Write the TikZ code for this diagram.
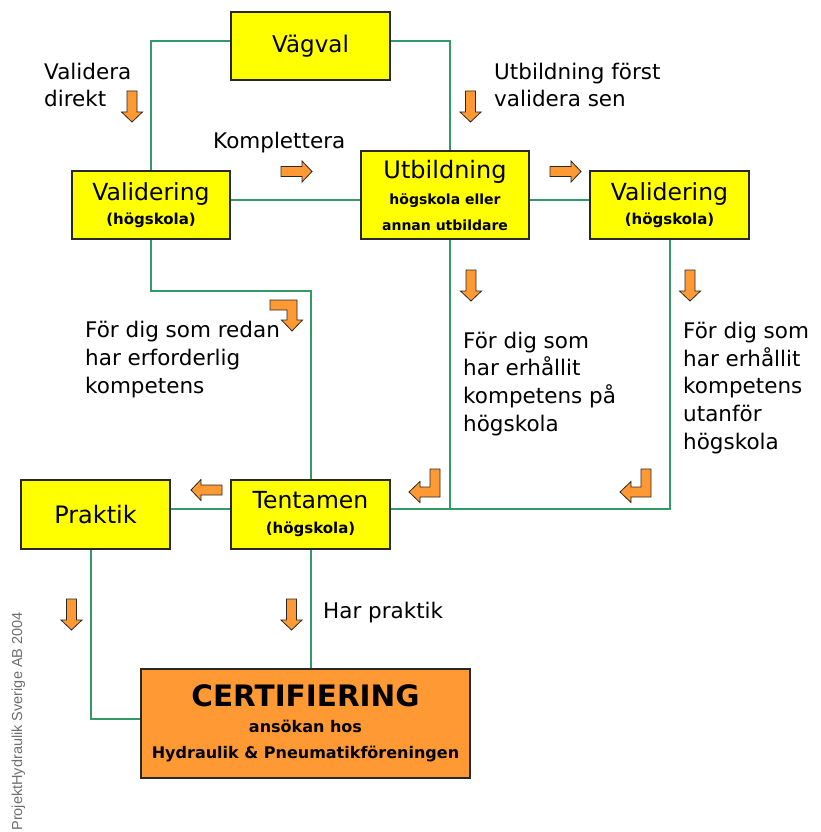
\documentclass[tikz,border=0pt]{standalone}
\usepackage{fontspec}
\setmainfont{DejaVu Sans}
\newfontfamily\wmfont{Liberation Sans}
\definecolor{lgreen}{RGB}{51,153,102}
\definecolor{boxyellow}{RGB}{255,255,0}
\definecolor{aorange}{RGB}{255,153,51}
\definecolor{edgegray}{RGB}{40,40,40}
\definecolor{wmgray}{RGB}{110,110,110}
\newcommand\fs[2]{\fontsize{#1}{#2}\selectfont}
\newcommand\subf{\fs{15}{24}\bfseries}
\newcommand\subg{\fs{14}{23}\bfseries}
\newcommand\subh{\fs{16}{24}\bfseries}
\tikzset{
  box/.style={draw=edgegray, line width=1.3pt, fill=boxyellow, inner sep=0pt, align=center},
  conn/.style={draw=lgreen, line width=2pt},
  oarrow/.style={draw=edgegray, line width=0.8pt, fill=aorange, line join=miter},
  lbl/.style={inner sep=0pt, align=left, anchor=base west, font=\fs{21.5}{27.6}},
}
% block arrows (x,y = start point)
\newcommand\arrdown[2]{\draw[oarrow] (#1-5,#2) -- (#1+5,#2) -- (#1+5,#2+21) -- (#1+10.5,#2+21) -- (#1,#2+31) -- (#1-10.5,#2+21) -- (#1-5,#2+21) -- cycle;}
\newcommand\arrright[2]{\draw[oarrow] (#1,#2-5) -- (#1+21,#2-5) -- (#1+21,#2-10.5) -- (#1+31,#2) -- (#1+21,#2+10.5) -- (#1+21,#2+5) -- (#1,#2+5) -- cycle;}
\newcommand\arrleft[2]{\draw[oarrow] (#1,#2-5) -- (#1-21,#2-5) -- (#1-21,#2-10.5) -- (#1-31,#2) -- (#1-21,#2+10.5) -- (#1-21,#2+5) -- (#1,#2+5) -- cycle;}
\newcommand\arrbend[2]{\draw[oarrow] (#1,#2) -- (#1+27,#2) -- (#1+27,#2+20) -- (#1+32.5,#2+20) -- (#1+22,#2+31) -- (#1+11.5,#2+20) -- (#1+17,#2+20) -- (#1+17,#2+10) -- (#1,#2+10) -- cycle;}
\newcommand\arrret[2]{\draw[oarrow] (#1-10,#2) -- (#1,#2) -- (#1,#2+28) -- (#1-20,#2+28) -- (#1-20,#2+33.5) -- (#1-31,#2+23) -- (#1-20,#2+12.5) -- (#1-20,#2+18) -- (#1-10,#2+18) -- cycle;}
\begin{document}
\begin{tikzpicture}[x=1pt,y=-1pt]
\useasboundingbox[fill=white] (0,0) rectangle (821,832);

% boxes
\node[box, minimum width=159pt, minimum height=68pt, font=\fs{23}{28}] (vagval) at (310.5,46) {Vägval};
\node[box, minimum width=158pt, minimum height=68pt, font=\fs{23.5}{24}] (valL) at (151,205) {Validering\\\subf (högskola)};
\node[box, minimum width=168pt, minimum height=88pt, font=\fs{24}{26}] (utb) at (445,195) {Utbildning\\\subg högskola eller\\\subg annan utbildare};
\node[box, minimum width=159pt, minimum height=68pt, font=\fs{23.5}{24}] (valR) at (669.5,205) {Validering\\\subf (högskola)};
\node[box, minimum width=159pt, minimum height=69pt, font=\fs{23.5}{25}] (tent) at (310.5,514.5) {Tentamen\\\subf (högskola)};
\node[box, minimum width=149pt, minimum height=69pt, font=\fs{24}{28}] (prak) at (95.5,514.5) {Praktik};
\node[box, fill=aorange, minimum width=329pt, minimum height=109pt, font=\fs{29.5}{26}\bfseries] (cert) at (305.5,723.5) {CERTIFIERING\\\subh ansökan hos\\\subh Hydraulik \& Pneumatikföreningen};

% connectors
\draw[conn] ([yshift=5pt]vagval.west) -| (valL.north);
\draw[conn] ([yshift=5pt]vagval.east) -| ([xshift=5pt]utb.north);
\draw[conn] ([yshift=5pt]valL.east) -- ([yshift=-5pt]utb.west);
\draw[conn] ([yshift=-5pt]utb.east) -- ([yshift=5pt]valR.west);
\draw[conn] (valL.south) -- ++(0,51) -| (tent.north);
\draw[conn] ([xshift=5pt]utb.south) -- ++(0,270);
\draw[conn] ([yshift=5.5pt]tent.east) -| (valR.south);
\draw[conn] ([yshift=5.5pt]prak.east) -- ([yshift=5.5pt]tent.west);
\draw[conn] ([xshift=-4.5pt]prak.south) |- ([yshift=4.5pt]cert.west);
\draw[conn] (tent.south) -- (tent.south |- cert.north);

% labels (anchor = baseline of the last line)
\node[lbl] (lvd) at (44,107) {Validera\\direkt};
\node[lbl] (lkomp) at (213,148) {Komplettera};
\node[lbl] (lutf) at (494,107) {Utbildning först\\validera sen};
\node[lbl] (lredan) at (85,393) {För dig som redan\\har erforderlig\\kompetens};
\node[lbl] (lhog) at (463,431) {För dig som\\har erhållit\\kompetens på\\högskola};
\node[lbl] (lutan) at (683,449) {För dig som\\har erhållit\\kompetens\\utanför\\högskola};
\node[lbl] (lhar) at (323,618) {Har praktik};
\node[inner sep=0pt, anchor=base east, rotate=90, text=wmgray, font=\wmfont\fs{14.5}{16}] (wm) at (22,612) {ProjektHydraulik Sverige AB 2004};

% block arrows
\arrdown{132}{91}
\arrdown{470.5}{91}
\arrright{281}{171.5}
\arrright{550}{171.5}
\arrdown{471}{270}
\arrdown{690}{270}
\arrbend{270}{300}
\arrret{440}{469}
\arrret{651}{469}
\arrleft{222}{490}
\arrdown{71.5}{599}
\arrdown{291.5}{599}
\end{tikzpicture}
\end{document}
